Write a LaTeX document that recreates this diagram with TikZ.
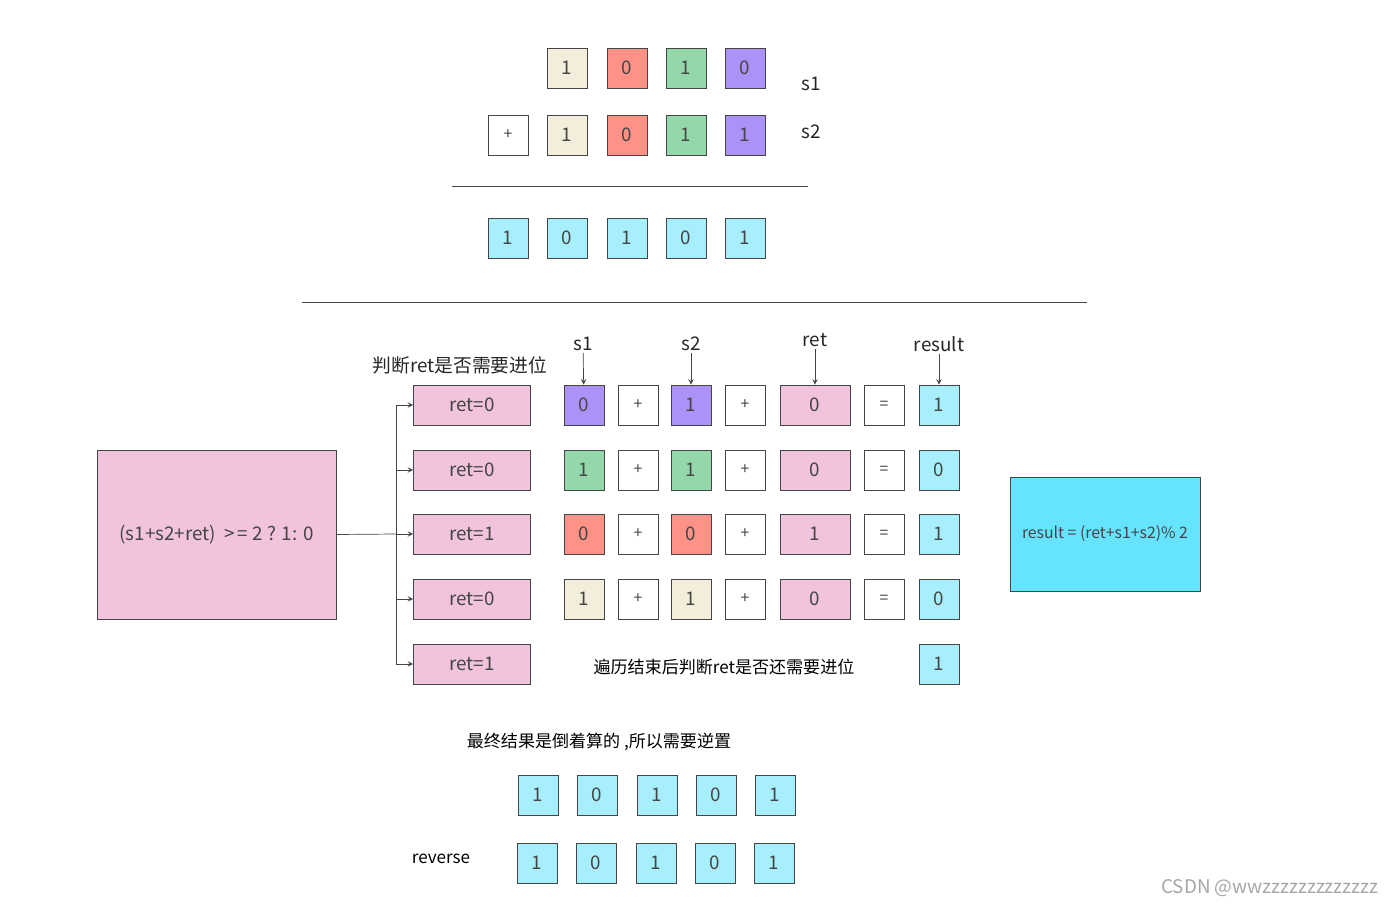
\documentclass[tikz,border=0pt]{standalone}
\usepackage{fontspec}
\setmainfont{Noto Sans CJK SC}
\usepackage{xcolor}
\usepackage{tikz}
\usetikzlibrary{positioning}
\definecolor{edgegray}{HTML}{454545}
\definecolor{beigebit}{HTML}{F3EEDB}
\definecolor{redbit}{HTML}{FF9287}
\definecolor{greenbit}{HTML}{93D7AA}
\definecolor{purplebit}{HTML}{AC92F7}
\definecolor{pinkbit}{HTML}{F1C3DD}
\definecolor{cyanbit}{HTML}{A7EFFC}
\definecolor{deepcyan}{HTML}{66E3FE}

\begin{document}
\begin{tikzpicture}[
x=0.02cm, y=-0.02cm,
font=\fontsize{10.7}{12.5}\selectfont,
bit/.style={
draw=edgegray,
minimum width=0.8cm,
minimum height=0.8cm,
inner sep=0pt,
text=edgegray
},
opbox/.style={
bit,
fill=white,
font=\fontsize{9}{11}\selectfont
},
retbox/.style={
bit,
fill=pinkbit,
minimum width=2.34cm
},
label/.style={
text=black!85,
inner sep=1pt
},
note/.style={
label,
text=black,
font=\fontsize{9.7}{11.5}\selectfont
},
arrow/.style={
->,
>=stealth,
color=edgegray
}
]
\useasboundingbox (0,0) rectangle (1394,906);

% top addition
\node[bit, fill=beigebit] (a1) at (567,68) {1};
\node[bit, fill=redbit] (a2) at (627,68) {0};
\node[bit, fill=greenbit] (a3) at (686,68) {1};
\node[bit, fill=purplebit] (a4) at (745,68) {0};
\node[label] (s1top) at (811,84) {s1};

\node[opbox] (plustop) at (508,135) {+};
\node[bit, fill=beigebit] (b1) at (567,135) {1};
\node[bit, fill=redbit] (b2) at (627,135) {0};
\node[bit, fill=greenbit] (b3) at (686,135) {1};
\node[bit, fill=purplebit] (b4) at (745,135) {1};
\node[label] (s2top) at (811,132) {s2};

\coordinate (sumL) at (452,186);
\coordinate (sumR) at (808,186);
\draw[edgegray] (sumL) -- (sumR);

\node[bit, fill=cyanbit] (c0) at (508,238) {1};
\node[bit, fill=cyanbit] (c1) at (567,238) {0};
\node[bit, fill=cyanbit] (c2) at (627,238) {1};
\node[bit, fill=cyanbit] (c3) at (686,238) {0};
\node[bit, fill=cyanbit] (c4) at (745,238) {1};

\coordinate (sepL) at (302,302);
\coordinate (sepR) at (1087,302);
\draw[edgegray] (sepL) -- (sepR);

% step by step
\node[label] (lbls1) at (583,344) {s1};
\node[label] (lbls2) at (691,344) {s2};
\node[label] (lblret) at (815,340) {ret};
\node[label] (lblres) at (939,344) {result};
\node[label] (carryq) at (460,365) {判断ret是否需要进位};

\node[retbox] (r1) at (472,405) {ret=0};
\node[bit, fill=purplebit] (x1) at (584,405) {0};
\node[opbox] (p1) at (638,405) {+};
\node[bit, fill=purplebit] (y1) at (691,405) {1};
\node[opbox] (q1) at (745,405) {+};
\node[retbox, minimum width=1.4cm] (k1) at (815,405) {0};
\node[opbox] (e1) at (884,405) {=};
\node[bit, fill=cyanbit] (z1) at (939,405) {1};

\node[retbox] (r2) at (472,470) {ret=0};
\node[bit, fill=greenbit] (x2) at (584,470) {1};
\node[opbox] (p2) at (638,470) {+};
\node[bit, fill=greenbit] (y2) at (691,470) {1};
\node[opbox] (q2) at (745,470) {+};
\node[retbox, minimum width=1.4cm] (k2) at (815,470) {0};
\node[opbox] (e2) at (884,470) {=};
\node[bit, fill=cyanbit] (z2) at (939,470) {0};

\node[retbox] (r3) at (472,534) {ret=1};
\node[bit, fill=redbit] (x3) at (584,534) {0};
\node[opbox] (p3) at (638,534) {+};
\node[bit, fill=redbit] (y3) at (691,534) {0};
\node[opbox] (q3) at (745,534) {+};
\node[retbox, minimum width=1.4cm] (k3) at (815,534) {1};
\node[opbox] (e3) at (884,534) {=};
\node[bit, fill=cyanbit] (z3) at (939,534) {1};

\node[retbox] (r4) at (472,599) {ret=0};
\node[bit, fill=beigebit] (x4) at (584,599) {1};
\node[opbox] (p4) at (638,599) {+};
\node[bit, fill=beigebit] (y4) at (691,599) {1};
\node[opbox] (q4) at (745,599) {+};
\node[retbox, minimum width=1.4cm] (k4) at (815,599) {0};
\node[opbox] (e4) at (884,599) {=};
\node[bit, fill=cyanbit] (z4) at (939,599) {0};

\node[retbox] (r5) at (472,664) {ret=1};
\node[note] (endq) at (724,667) {遍历结束后判断ret是否还需要进位};
\node[bit, fill=cyanbit] (z5) at (939,664) {1};

\draw[arrow] (lbls1) -- (x1);
\draw[arrow] (lbls2) -- (y1);
\draw[arrow] (lblret) -- (k1);
\draw[arrow] (lblres) -- (z1);

\node[bit, fill=pinkbit, minimum width=4.78cm, minimum height=3.38cm] (rule)
at (216.5,534.5) {(s1+s2+ret)\ \ >\,= 2 ? 1: 0};

\node[bit, fill=deepcyan, minimum width=3.8cm, minimum height=2.28cm,
font=\fontsize{9}{11}\selectfont] (formula)
at (1105,534) {result = (ret+s1+s2)\% 2};

\coordinate (trunk) at (396,534);
\draw[edgegray] (rule.east) -- (trunk);
\draw[edgegray] (trunk |- r1) -- (trunk |- r5);
\draw[arrow] (trunk |- r1) -- (r1);
\draw[arrow] (trunk |- r2) -- (r2);
\draw[arrow] (trunk) -- (r3);
\draw[arrow] (trunk |- r4) -- (r4);
\draw[arrow] (trunk |- r5) -- (r5);

% reverse
\node[note] (revnote) at (599,742) {最终结果是倒着算的 ,所以需要逆置};

\node[bit, fill=cyanbit] (d1) at (538,795) {1};
\node[bit, fill=cyanbit] (d2) at (597,795) {0};
\node[bit, fill=cyanbit] (d3) at (657,795) {1};
\node[bit, fill=cyanbit] (d4) at (716,795) {0};
\node[bit, fill=cyanbit] (d5) at (775,795) {1};

\node[note] (revlbl) at (441,859) {reverse};
\node[bit, fill=cyanbit] (f1) at (537,863) {1};
\node[bit, fill=cyanbit] (f2) at (596,863) {0};
\node[bit, fill=cyanbit] (f3) at (656,863) {1};
\node[bit, fill=cyanbit] (f4) at (715,863) {0};
\node[bit, fill=cyanbit] (f5) at (774,863) {1};

\node[text=black!35] (mark) at (1270,888) {CSDN @wwzzzzzzzzzzzzz};

\end{tikzpicture}
\end{document}
